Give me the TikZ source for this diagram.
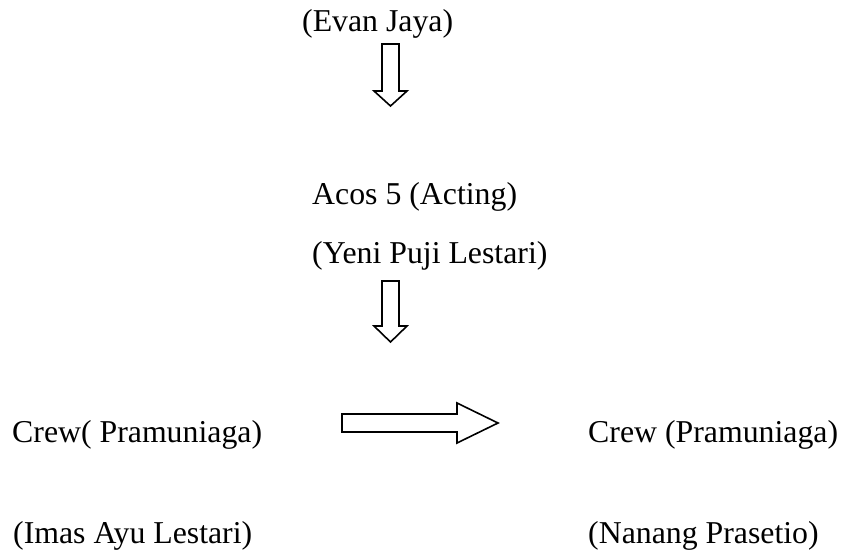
\documentclass[tikz,border=0pt]{standalone}
\usepackage{fontspec}
\setmainfont{Liberation Serif}
\begin{document}
\begin{tikzpicture}[x=1pt,y=-1pt,
  lbl/.style={anchor=base west, inner sep=0pt, font=\fontsize{31.8}{36}\selectfont},
  blockarrow/.style={draw=black, line width=1.6pt, fill=white, line join=miter}]
\useasboundingbox (0,0) rectangle (843,551);
% texts
\node[lbl] (evan) at (302,32) {(Evan Jaya)};
\node[lbl] (acos) at (312,204) {Acos 5 (Acting)};
\node[lbl] (yeni) at (312,263) {(Yeni Puji Lestari)};
\node[lbl] (crewL) at (12,442) {Crew( Pramuniaga)};
\node[lbl] (crewR) at (588,442) {Crew (Pramuniaga)};
\node[lbl] (imas) at (13,543) {(Imas Ayu Lestari)};
\node[lbl] (nanang) at (588,543) {(Nanang Prasetio)};
% block arrows
\draw[blockarrow] (382,44) -- (399,44) -- (399,91) -- (407,91) -- (390.5,106) -- (374,91) -- (382,91) -- cycle;
\draw[blockarrow] (382,281) -- (399,281) -- (399,326) -- (407,326) -- (390.5,342) -- (374,326) -- (382,326) -- cycle;
\draw[blockarrow] (342,414) -- (457,414) -- (457,403) -- (498,423) -- (457,443) -- (457,432) -- (342,432) -- cycle;
\end{tikzpicture}
\end{document}
